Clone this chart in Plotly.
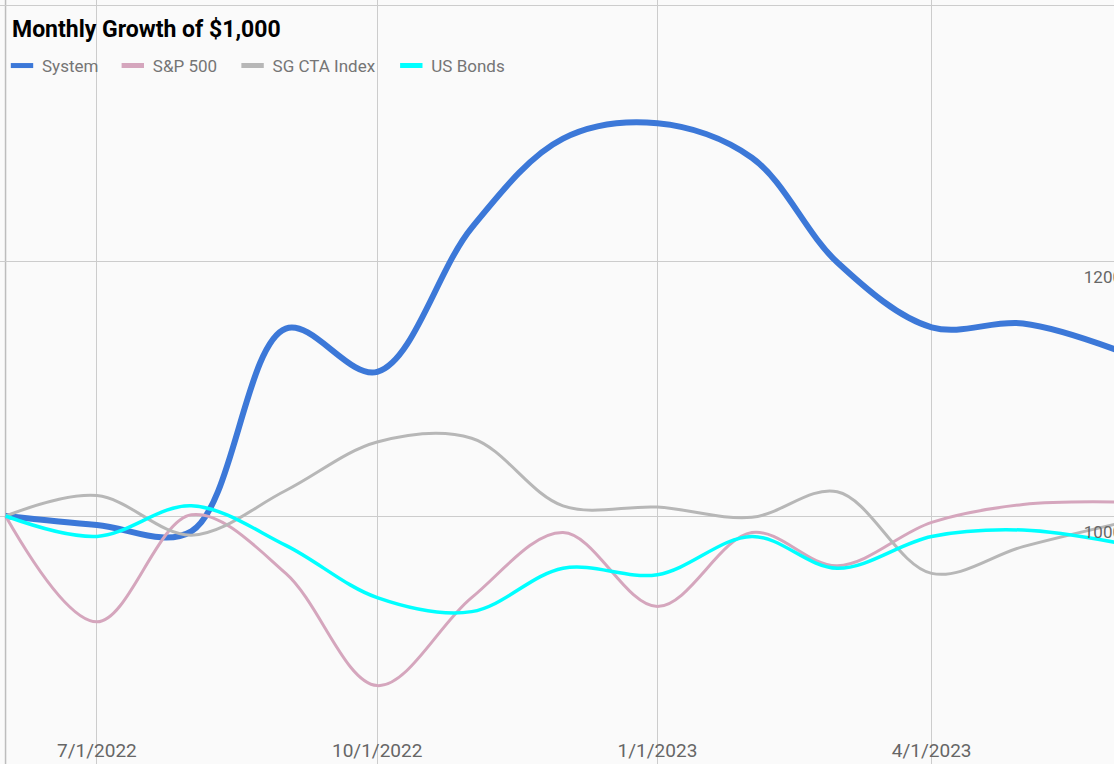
import plotly.graph_objects as go

dates = ["2022-06-01", "2022-07-01", "2022-08-01", "2022-09-01", "2022-10-01", "2022-11-01",
         "2022-12-01", "2023-01-01", "2023-02-01", "2023-03-01", "2023-04-01", "2023-05-01",
         "2023-06-01"]
system = [1000, 993, 988, 1147, 1113, 1226, 1296, 1308, 1281, 1199, 1148, 1151, 1130]
sp500 = [1000, 917, 1001, 955, 867, 936, 987, 929, 987, 961, 995, 1009, 1011]
sg_cta = [1000, 1016, 985, 1020, 1058, 1061, 1008, 1007, 999, 1019, 955, 976, 994]
us_bonds = [1000, 984, 1008, 977, 936, 925, 959, 954, 984, 959, 984, 989, 979]

series_names = ["System", "S&P 500", "SG CTA Index", "US Bonds"]
series_values = [system, sp500, sg_cta, us_bonds]
colors = ["#3c78d8", "#d5a6bd", "#b7b7b7", "#00ffff"]
widths = [6, 3, 3, 3.5]

x_ticks = ["2022-07-01", "2022-10-01", "2023-01-01", "2023-04-01"]
y_ticks = [1000, 1200, 1400]
y_ticktext = ["1000", "1200", ""]

# the visible window is 1114 px wide; the chart runs a little past its right edge
W, H = 1122, 764
legend_ids = ["legend", "legend2", "legend3", "legend4"]
legend_px = [2, 113, 233, 392]

fig = go.Figure()
for name, vals, col, w in zip(series_names, series_values, colors, widths):
    fig.add_trace(go.Scatter(x=dates, y=vals, name=name, mode="lines",
                             line=dict(color=col, width=w, shape="spline", smoothing=1),
                             showlegend=False))
for name, col, lid in zip(series_names, colors, legend_ids):
    fig.add_trace(go.Scatter(x=[None], y=[None], name=name, mode="markers",
                             marker=dict(symbol="line-ew", size=16, color=col,
                                         line=dict(width=5, color=col)),
                             legend=lid, showlegend=True))

fig.add_shape(type="line", xref="x", yref="paper", x0="2022-06-01", x1="2022-06-01",
              y0=0, y1=1, line=dict(color="#bdbdbd", width=1.5), layer="below")

legend_common = dict(orientation="h", xanchor="left", y=1 - 66 / H, yanchor="middle",
                     font=dict(family="Roboto", size=17, color="#757575"),
                     bgcolor="rgba(0,0,0,0)", borderwidth=0)
legends = {lid: dict(x=px / W, **legend_common) for lid, px in zip(legend_ids, legend_px)}

fig.update_layout(
    width=W, height=H,
    margin=dict(l=0, r=0, t=0, b=0),
    paper_bgcolor="#fafafa", plot_bgcolor="#fafafa",
    title=dict(text="Monthly Growth of $1,000", x=12 / W, xref="container", xanchor="left",
               y=1 - 29 / H, yref="container", yanchor="middle",
               font=dict(family="Roboto", size=23, color="#000000", weight="bold")),
    xaxis=dict(range=["2022-05-30 04:20", "2023-06-01 20:00"], tickvals=x_ticks,
               tickformat="%-m/%-d/%Y", ticklabelposition="inside",
               showgrid=True, gridcolor="#cccccc", gridwidth=1.2, zeroline=False,
               showline=False, ticks="",
               tickfont=dict(family="Roboto", size=19, color="#666666")),
    yaxis=dict(side="right", range=[805.5, 1404.7], tickvals=y_ticks, ticktext=y_ticktext,
               ticklabelposition="inside bottom", ticklabelstandoff=-5, ticklabelshift=4,
               showgrid=True, gridcolor="#cccccc", gridwidth=1.2, zeroline=False,
               showline=False, ticks="",
               tickfont=dict(family="Roboto", size=17, color="#666666")),
    **legends,
)

fig.write_html("out.html", config={"displayModeBar": False},
               post_script="document.body.style.margin='0';"
                           "document.body.style.overflow='hidden';"
                           "document.documentElement.style.overflow='hidden';")
